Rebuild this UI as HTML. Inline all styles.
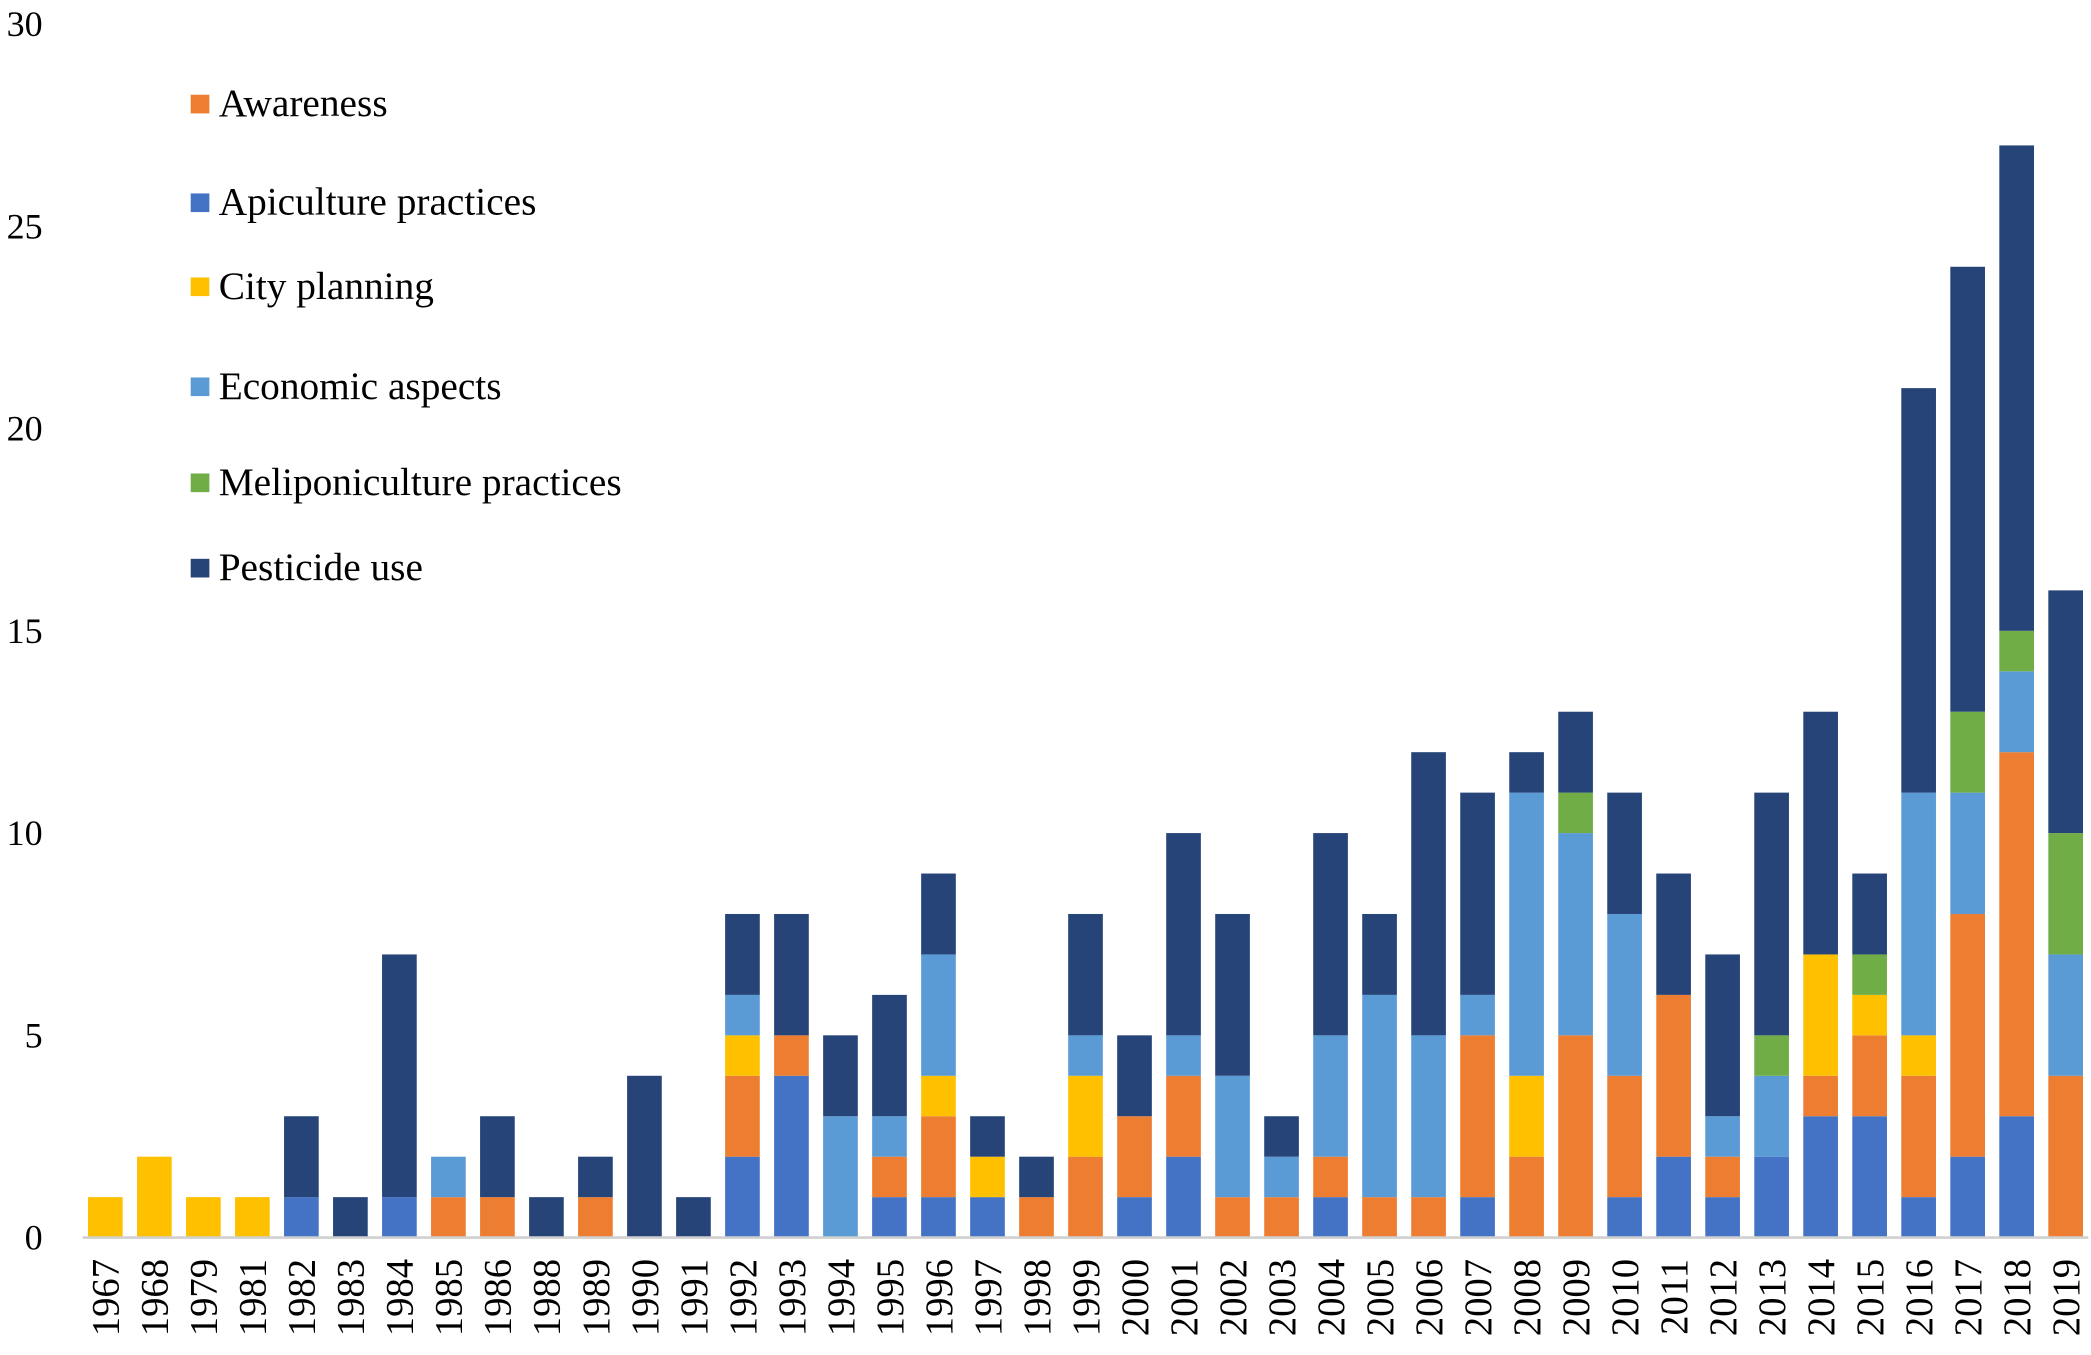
<!DOCTYPE html>
<html><head><meta charset="utf-8"><style>
html,body{margin:0;padding:0;background:#fff;}
svg{display:block;font-family:"Liberation Serif",serif;}
</style></head><body>
<svg id="chart" width="2091" height="1355" viewBox="0 0 1568 1016" xmlns="http://www.w3.org/2000/svg">
<g id="yaxis"></g>
<g id="bars"></g>
<g id="xaxis"></g>
<g id="legend"></g>
</svg>
<script>
const years = ["1967","1968","1979","1981","1982","1983","1984","1985","1986","1988","1989","1990","1991","1992","1993","1994","1995","1996","1997","1998","1999","2000","2001","2002","2003","2004","2005","2006","2007","2008","2009","2010","2011","2012","2013","2014","2015","2016","2017","2018","2019"];
const apiculture = [0,0,0,0,1,0,1,0,0,0,0,0,0,2,4,0,1,1,1,0,0,1,2,0,0,1,0,0,1,0,0,1,2,1,2,3,3,1,2,3,0];
const awareness  = [0,0,0,0,0,0,0,1,1,0,1,0,0,2,1,0,1,2,0,1,2,2,2,1,1,1,1,1,4,2,5,3,4,1,0,1,2,3,6,9,4];
const city       = [1,2,1,1,0,0,0,0,0,0,0,0,0,1,0,0,0,1,1,0,2,0,0,0,0,0,0,0,0,2,0,0,0,0,0,3,1,1,0,0,0];
const economic   = [0,0,0,0,0,0,0,1,0,0,0,0,0,1,0,3,1,3,0,0,1,0,1,3,1,3,5,4,1,7,5,4,0,1,2,0,0,6,3,2,3];
const melipon    = [0,0,0,0,0,0,0,0,0,0,0,0,0,0,0,0,0,0,0,0,0,0,0,0,0,0,0,0,0,0,1,0,0,0,1,0,1,0,2,1,3];
const pesticide  = [0,0,0,0,2,1,6,0,2,1,1,4,1,2,3,2,3,2,1,1,3,2,5,4,1,5,2,7,5,1,2,3,3,4,6,6,2,10,11,12,6];
const yTicks = [0,5,10,15,20,25,30];
const seriesNames = ["Apiculture practices","Awareness","City planning","Economic aspects","Meliponiculture practices","Pesticide use"];
const seriesColors = ["#4472C4","#ED7D31","#FFC000","#5B9BD5","#70AD47","#264478"];
const legendOrder = ["Awareness","Apiculture practices","City planning","Economic aspects","Meliponiculture practices","Pesticide use"];
const legendY = [78,152,215,290,362,426];
const seriesData = [apiculture,awareness,city,economic,melipon,pesticide];
const NS="http://www.w3.org/2000/svg";
const y0=928, yTop=18, yMax=30;
const yScale=v=>y0-(v/yMax)*(y0-yTop);
const x0=79, x1=1549;
const xScale=i=>x0+i*(x1-x0)/(years.length-1);
const bw=26;
function mk(t,a){const e=document.createElementNS(NS,t);for(const k in a)e.setAttribute(k,a[k]);return e;}
const ya=document.getElementById('yaxis');
yTicks.forEach(t=>{const tx=mk('text',{x:32,y:yScale(t)+9,'text-anchor':'end','font-size':27,fill:'#000'});tx.textContent=t;


ya.appendChild(tx);});
const bars=document.getElementById('bars');
years.forEach((yr,i)=>{let acc=0;seriesData.forEach((s,k)=>{const v=s[i];if(!v)return;
const r=mk('rect',{x:xScale(i)-bw/2,y:yScale(acc+v),width:bw,height:yScale(acc)-yScale(acc+v),fill:seriesColors[k]});


bars.appendChild(r);acc+=v;});});
const xa=document.getElementById('xaxis');
const ln=mk('line',{x1:62,x2:1566,y1:y0,y2:y0,stroke:'#d0d0d0','stroke-width':2});


xa.appendChild(ln);
years.forEach((yr,i)=>{const x=xScale(i)+10,y=944;
const tx=mk('text',{x:x,y:y,'text-anchor':'end','font-size':29,fill:'#000',transform:`rotate(-90 ${x} ${y})`});tx.textContent=yr;


xa.appendChild(tx);});
const lg=document.getElementById('legend');
legendOrder.forEach((n,j)=>{const k=seriesNames.indexOf(n);const y=legendY[j];
const sq=mk('rect',{x:143,y:y-7,width:14,height:14,fill:seriesColors[k]});


lg.appendChild(sq);
const tx=mk('text',{x:164,y:y+9,'font-size':29.5,fill:'#000'});tx.textContent=n;


lg.appendChild(tx);});
</script>
</body></html>
